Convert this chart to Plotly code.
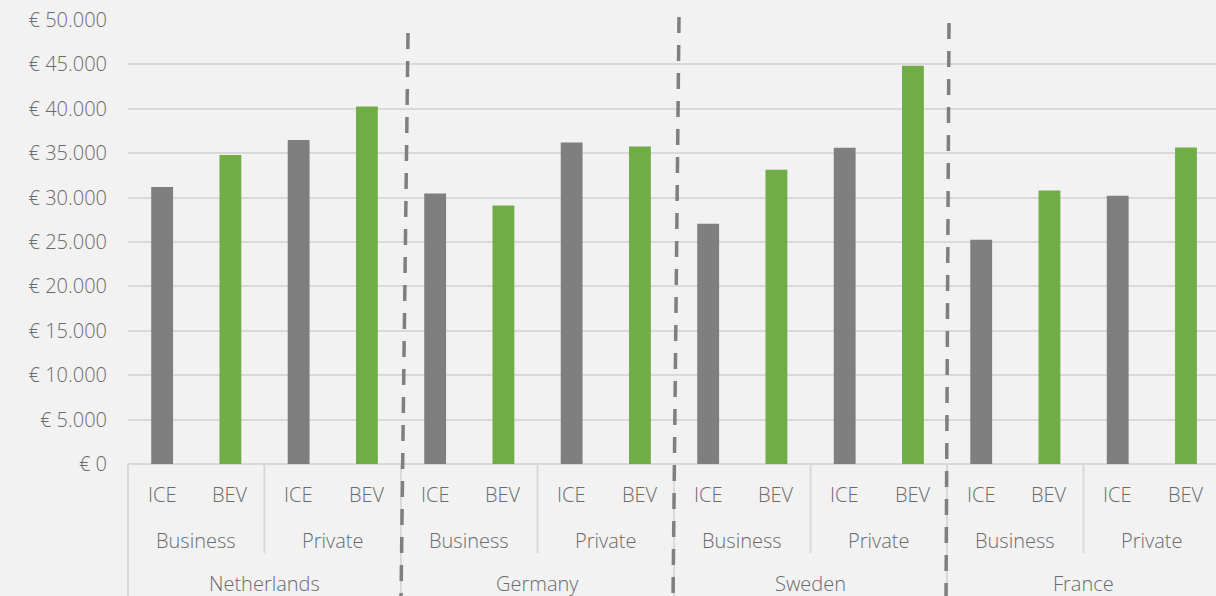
import plotly.graph_objects as go

countries = ["Netherlands", "Germany", "Sweden", "France"]
segments = ["Business", "Private"]
powertrains = ["ICE", "BEV"]

# values per country: [Business ICE, Business BEV, Private ICE, Private BEV]
netherlands = [31200, 34800, 36500, 40250]
germany = [30450, 29100, 36200, 35750]
sweden = [27050, 33150, 35600, 44850]
france = [25250, 30800, 30200, 35650]

ytick_vals = [0, 5000, 10000, 15000, 20000, 25000, 30000, 35000, 40000, 45000, 50000]
ytick_text = ["€ 0", "€ 5.000", "€ 10.000", "€ 15.000", "€ 20.000", "€ 25.000",
              "€ 30.000", "€ 35.000", "€ 40.000", "€ 45.000", "€ 50.000"]

COL = {"ICE": "#7f7f7f", "BEV": "#70ad47"}
TXT = "#6a6a6a"
GRID = "#d9d9d9"
FONT = "Open Sans"
FW = 300
FS = 20

all_vals = netherlands + germany + sweden + france
labels1, labels2, labels3 = [], [], []
for c in countries:
    for s in segments:
        for p in powertrains:
            labels1.append(p)
            labels2.append(s)
            labels3.append(c)

n = len(all_vals)
xs = list(range(n))

fig = go.Figure()
fig.add_trace(go.Bar(
    x=xs, y=all_vals,
    marker=dict(color=[COL[p] for p in labels1], line=dict(width=0)),
    width=0.32, showlegend=False, hoverinfo="y",
))

W, H = 1216, 596
ml, mr, mt, mb = 128, 0, 20, 132
ph = H - mt - mb
XMIN, XMAX = -0.5, n - 0.56


def py(pix):
    # pixel y (from top) -> paper y
    return (H - mb - pix) / ph


def px(xval):
    # data x -> paper x
    return (xval - XMIN) / (XMAX - XMIN)


tfont = dict(family=FONT, size=FS, color=TXT, weight=FW)
annotations = []
shapes = []
for i, t in enumerate(labels1):
    annotations.append(dict(x=i, y=py(494), xref="x", yref="paper", text=t, showarrow=False,
                            font=tfont, yanchor="middle"))
for k in range(0, n, 2):
    annotations.append(dict(x=k + 0.5, y=py(540), xref="x", yref="paper", text=labels2[k], showarrow=False,
                            font=tfont, yanchor="middle"))
for k in range(0, n, 4):
    annotations.append(dict(x=k + 1.5, y=py(583), xref="x", yref="paper", text=labels3[k], showarrow=False,
                            font=tfont, yanchor="middle"))

shapes.append(dict(type="line", xref="paper", yref="paper", x0=0, x1=1, y0=0, y1=0,
                   line=dict(color=GRID, width=2), layer="below"))
for k in range(2, n, 4):
    xp = px(k - 0.5)
    shapes.append(dict(type="line", xref="paper", yref="paper", x0=xp, x1=xp, y0=0, y1=py(553),
                       line=dict(color=GRID, width=2)))
for k in range(0, n, 4):
    xp = px(k - 0.5)
    shapes.append(dict(type="line", xref="paper", yref="paper", x0=xp, x1=xp, y0=0, y1=py(H + 2),
                       line=dict(color=GRID, width=2)))

dash_top_x = [408, 679, 949]
dash_top_y = [33, 17, 23]
dash_bot_x = [401, 673, 946]
for tx, ty, bx in zip(dash_top_x, dash_top_y, dash_bot_x):
    shapes.append(dict(type="line", xref="paper", yref="paper",
                       x0=(tx - ml) / (W - ml - mr), y0=py(ty),
                       x1=(bx - ml) / (W - ml - mr), y1=py(H + 4),
                       line=dict(color="#7f7f7f", width=3.5, dash="16px,12px")))

fig.update_layout(
    width=W, height=H,
    margin=dict(l=ml, r=mr, t=mt, b=mb),
    paper_bgcolor="#f2f2f2", plot_bgcolor="#f2f2f2",
    bargap=0.68,
    annotations=annotations,
    shapes=shapes,
    font=tfont,
)
fig.update_xaxes(range=[XMIN, XMAX], showticklabels=False, showgrid=False, zeroline=False,
                 showline=False, ticks="")
fig.update_yaxes(range=[0, 50000], tickvals=ytick_vals, ticktext=ytick_text,
                 showgrid=True, gridcolor=GRID, gridwidth=1.5, zeroline=False, showline=False,
                 ticks="", ticklabelstandoff=20, tickfont=tfont)

fig.write_html("out.html", config={"displayModeBar": False},
               post_script="document.body.style.margin='0';document.body.style.background='#f2f2f2';")
